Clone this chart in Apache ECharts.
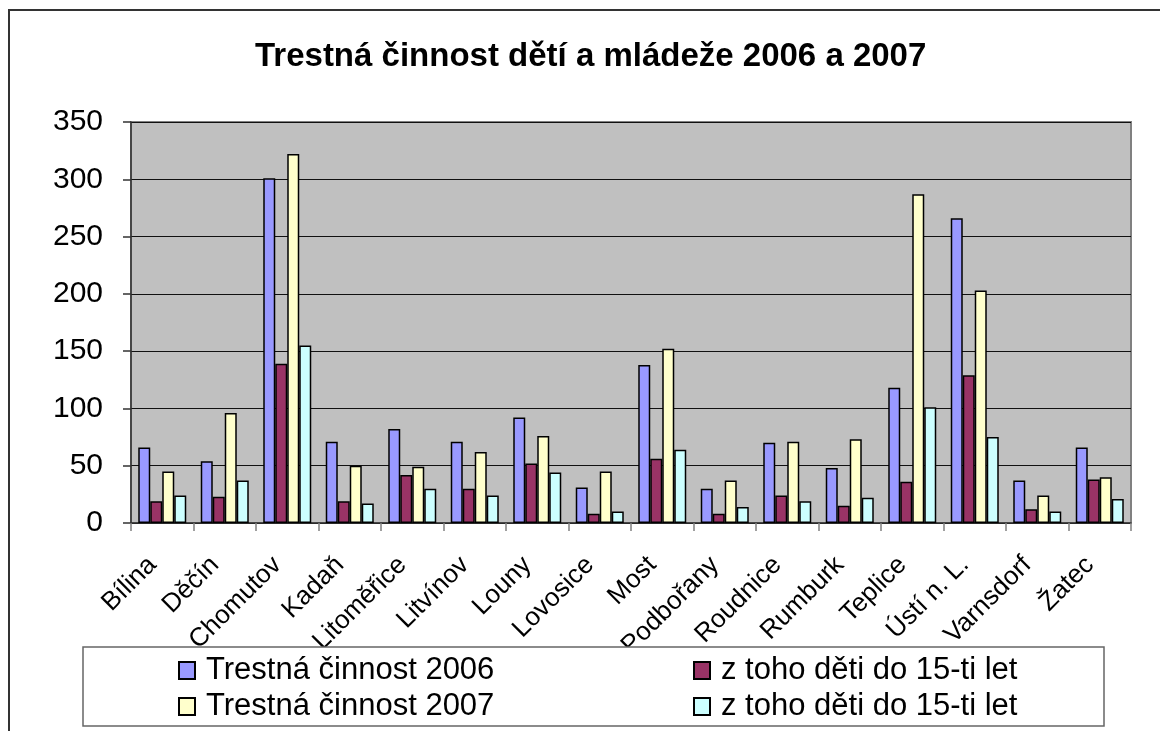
<!DOCTYPE html>
<html>
<head>
<meta charset="utf-8">
<script src="https://cdn.jsdelivr.net/npm/echarts@6/dist/echarts.min.js"></script>
<style>
  html, body { margin: 0; padding: 0; background: #fff; }
  #chart { width: 1160px; height: 731px; }
</style>
</head>
<body>
<div id="chart"></div>
<script>
// okresy
var categories = ["Bílina", "Děčín", "Chomutov", "Kadaň", "Litoměřice", "Litvínov", "Louny", "Lovosice",
  "Most", "Podbořany", "Roudnice", "Rumburk", "Teplice", "Ústí n. L.", "Varnsdorf", "Žatec"];

var crime2006 = [66, 54, 301, 71, 82, 71, 92, 31, 138, 30, 70, 48, 118, 266, 37, 66];
var kids2006 = [19, 23, 139, 19, 42, 30, 52, 8, 56, 8, 24, 15, 36, 129, 12, 38];
var crime2007 = [45, 96, 322, 50, 49, 62, 76, 45, 152, 37, 71, 73, 287, 203, 24, 40];
var kids2007 = [24, 37, 155, 17, 30, 24, 44, 10, 64, 14, 19, 22, 101, 75, 10, 21];

var yTicks = [0, 50, 100, 150, 200, 250, 300, 350];

var names = ["Trestná činnost 2006", "z toho děti do 15-ti let (2006)", "Trestná činnost 2007", "z toho děti do 15-ti let (2007)"];
var colors = ["#9999FF", "#993366", "#FFFFCC", "#CCFFFF"];
var values = [crime2006, kids2006, crime2007, kids2007];

var chart = echarts.init(document.getElementById("chart"));

var font = "'Liberation Sans', Arial, sans-serif";

function legendAt(name, left, top) {
  return {
    data: [name],
    left: left,
    top: top,
    padding: 0,
    z: 20,
    itemWidth: 16,
    itemHeight: 17,
    icon: "rect",
    selectedMode: false,
    formatter: function (n) { return n.replace(/ \(\d+\)$/, ""); }, //stejny nazev u obou
    textStyle: { fontFamily: font, fontSize: 31, color: "#000", padding: [0, 0, 0, 6] },
  };
}

var option = {
  animation: false,
  backgroundColor: "#fff",
  title: {
    text: "Trestná činnost dětí a mládeže 2006 a 2007",
    left: 250,
    top: 35,
    textStyle: { fontFamily: font, fontSize: 33, fontWeight: "bold", color: "#000" },
  },
  grid: {
    left: 131,
    top: 122,
    right: 29,
    bottom: 208,
    show: true,
    backgroundColor: "#C0C0C0",
    borderColor: "#808080",
    borderWidth: 2,
    containLabel: false,
    outerBoundsMode: "none",
  },
  legend: [
    legendAt(names[0], 178, 655),
    legendAt(names[1], 693, 655),
    legendAt(names[2], 178, 691),
    legendAt(names[3], 693, 691),
  ],
  xAxis: {
    type: "category",
    data: categories,
    axisLine: { lineStyle: { color: "#333", width: 1.5 } },
    axisTick: { show: true, length: 8, lineStyle: { color: "#808080", width: 1.5 } },
    axisLabel: {
      rotate: 45,
      margin: 28,
      interval: 0,
      fontFamily: font,
      fontSize: 26,
      color: "#000",
      padding: [0, 14, 0, 0],
    },
  },
  yAxis: {
    type: "value",
    min: yTicks[0],
    max: yTicks[yTicks.length - 1],
    interval: 50,
    axisLine: { show: true, lineStyle: { color: "#333", width: 1.5 } },
    axisTick: { show: true, length: 8, lineStyle: { color: "#333", width: 1.5 } },
    axisLabel: { margin: 28, fontFamily: font, fontSize: 30, color: "#000" },
    splitLine: { lineStyle: { color: "#111", width: 1 } },
  },
  series: names.map(function (n, i) {
    return {
      name: n,
      type: "bar",
      data: values[i],
      barWidth: 12,
      barGap: "0%",
      itemStyle: { color: colors[i], borderColor: "#000", borderWidth: 1.5 },
    };
  }),
  graphic: [
    { // ramecek grafu
      type: "rect",
      shape: { x: 9, y: 10, width: 1160, height: 740 },
      style: { fill: "none", stroke: "#333", lineWidth: 2 },
      silent: true,
    },
    { // ramecek legendy - prekryva popisky osy
      type: "rect",
      shape: { x: 83, y: 647, width: 1021, height: 79 },
      style: { fill: "#fff", stroke: "#666", lineWidth: 1.5 },
      silent: true,
      z: 10,
    },
  ],
};

chart.setOption(option);
</script>
</body>
</html>
